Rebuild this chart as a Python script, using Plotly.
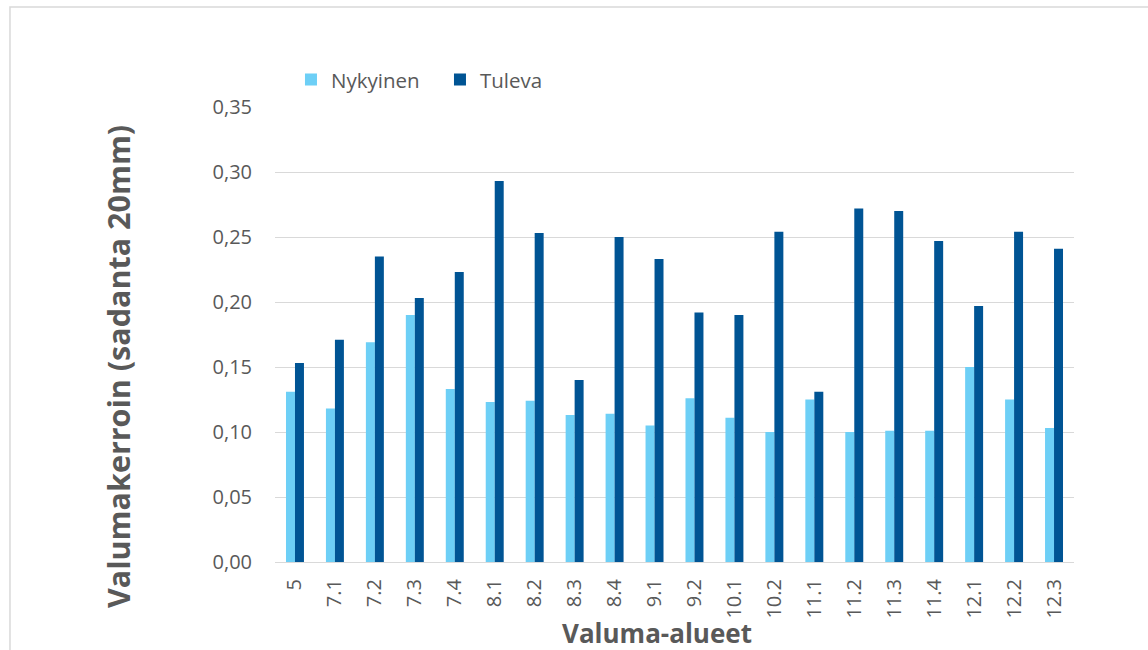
import plotly.graph_objects as go

# Catchment areas and runoff coefficients (20 mm rainfall)
categories = ["5", "7.1", "7.2", "7.3", "7.4", "8.1", "8.2", "8.3", "8.4", "9.1",
              "9.2", "10.1", "10.2", "11.1", "11.2", "11.3", "11.4", "12.1", "12.2", "12.3"]
nykyinen = [0.131, 0.118, 0.169, 0.190, 0.133, 0.123, 0.124, 0.113, 0.114, 0.105,
            0.126, 0.111, 0.100, 0.125, 0.100, 0.101, 0.101, 0.150, 0.125, 0.103]
tuleva = [0.153, 0.171, 0.235, 0.203, 0.223, 0.293, 0.253, 0.140, 0.250, 0.233,
          0.192, 0.190, 0.254, 0.131, 0.272, 0.270, 0.247, 0.197, 0.254, 0.241]
y_ticks = [0.00, 0.05, 0.10, 0.15, 0.20, 0.25, 0.30, 0.35]

FONT = "Open Sans"
TEXT = "#595959"
GRID = "#d9d9d9"

fig = go.Figure()
fig.add_trace(go.Bar(name="Nykyinen", x=categories, y=nykyinen,
                     marker=dict(color="#6dcff6", line=dict(width=0))))
fig.add_trace(go.Bar(name="Tuleva", x=categories, y=tuleva,
                     marker=dict(color="#005494", line=dict(width=0))))

fig.update_layout(
    width=1148, height=650,
    margin=dict(l=275, r=74, t=107, b=88),
    paper_bgcolor="white", plot_bgcolor="white",
    separators=", ",
    barmode="group", bargap=0.55, bargroupgap=0,
    font=dict(family=FONT, color=TEXT, size=20),
    showlegend=True,
    legend=dict(orientation="h", x=0.02, xanchor="left", y=1.06, yanchor="middle",
                font=dict(family=FONT, size=20.5, color=TEXT),
                bgcolor="rgba(0,0,0,0)", entrywidth=104, itemwidth=30,
                traceorder="normal"),
    xaxis=dict(type="category", tickangle=-90, showline=True, linecolor=GRID, linewidth=1,
               showgrid=False, ticks="", ticklabelstandoff=8,
               tickfont=dict(family=FONT, size=20, color=TEXT)),
    yaxis=dict(range=[0, 0.35], tickvals=y_ticks, tickformat=".2f",
               showgrid=True, gridcolor=GRID, gridwidth=1, zeroline=False,
               showline=False, ticks="", ticklabelstandoff=22,
               tickfont=dict(family=FONT, size=20, color=TEXT)),
    annotations=[
        dict(text="<b>Valumakerroin (sadanta 20mm)</b>", textangle=-90,
             xref="paper", yref="paper", x=-0.1965, y=0.4308,
             xanchor="center", yanchor="middle", showarrow=False,
             font=dict(family=FONT, size=30.5, color=TEXT)),
        dict(text="<b>Valuma-alueet</b>",
             xref="paper", yref="paper", x=0.478, y=-0.156,
             xanchor="center", yanchor="middle", showarrow=False,
             font=dict(family=FONT, size=26, color=TEXT)),
    ],
    shapes=[
        # legend area background hiding the top gridline
        dict(type="rect", xref="paper", yref="paper", x0=-0.01, x1=0.369, y0=0.985, y1=1.015,
             fillcolor="white", line=dict(width=0), layer="above"),
        # chart area frame
        dict(type="rect", xref="paper", yref="paper", x0=-0.3317, x1=1.12, y0=-0.25, y1=1.2198,
             fillcolor="rgba(0,0,0,0)", line=dict(color=GRID, width=1.5), layer="below"),
    ],
)

fig.write_html("out.html")
